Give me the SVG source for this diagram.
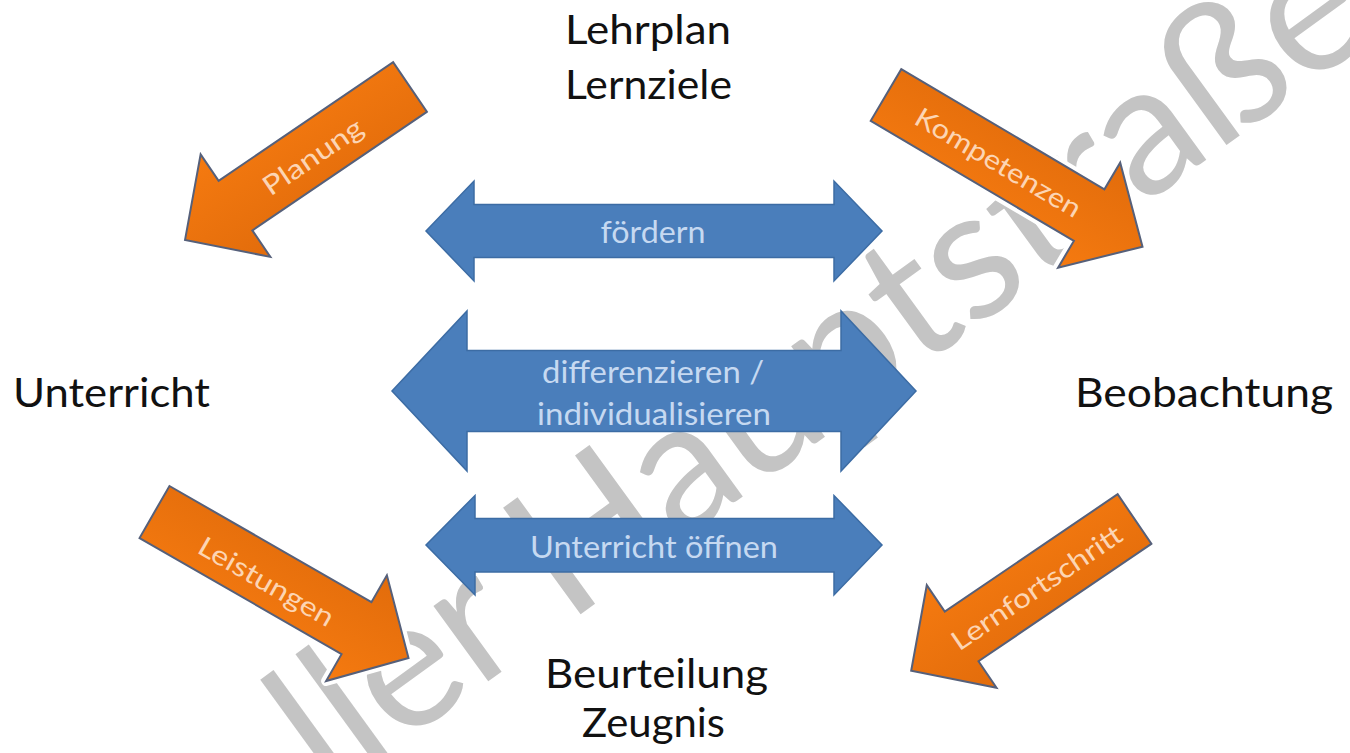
<svg xmlns="http://www.w3.org/2000/svg" width="1350" height="753" viewBox="0 0 1350 753">
  <defs>
    <linearGradient id="og" x1="0" y1="0" x2="0" y2="1">
      <stop offset="0" stop-color="#E26C0B"/>
      <stop offset="1" stop-color="#F57A10"/>
    </linearGradient>
    <polygon id="shpPlan" points="0,-30 211,-30 211,-62 272,0 211,62 211,30 0,30"/>
    <polygon id="shpKomp" points="0,-30 236,-30 236,-61 298,0 236,61 236,30 0,30"/>
    <polygon id="shpLeis" points="0,-30 233,-30 233,-61 293,0 233,61 233,30 0,30"/>
    <polygon id="shpLern" points="0,-30 209,-30 209,-62 270,0 209,62 209,30 0,30"/>
    <style>
      .node { font-family: "Lato", "Open Sans", "Liberation Sans", sans-serif; font-size: 40px; fill: #111; stroke: #ffffff; stroke-width: 7px; paint-order: stroke; stroke-linejoin: round; }
      .wm { font-family: "Lato", "Open Sans", "Liberation Sans", sans-serif; font-size: 184px; fill: #c4c4c4; }
      .halo { fill: #ffffff; stroke: #ffffff; stroke-width: 10; stroke-linejoin: round; }
      .orange { fill: url(#og); stroke: #56607a; stroke-width: 2; stroke-linejoin: miter; }
      .blue { fill: #4A7EBB; stroke: #3C6CA4; stroke-width: 1.5; }
      .olabel { font-family: "Lato", "Open Sans", "Liberation Sans", sans-serif; font-size: 27px; fill: #FCD5B4; text-anchor: middle; }
      .blabel { font-family: "Lato", "Open Sans", "Liberation Sans", sans-serif; font-size: 30px; fill: #C6D9F1; text-anchor: middle; }
    </style>
  </defs>
  <rect width="1350" height="753" fill="#ffffff"/>

  <g id="watermark">
    <text class="wm" transform="translate(855,415) rotate(-36)" text-anchor="middle">ller Hauptstraße</text>
  </g>

  <g id="connectors">
    <g id="arrow-planung" transform="translate(410,87) rotate(145.8)">
      <use href="#shpPlan" class="halo"/>
      <use href="#shpPlan" class="orange"/>
    </g>
    <text class="olabel" transform="translate(313,157) rotate(-34.2)" dy="9" textLength="115" lengthAdjust="spacingAndGlyphs">Planung</text>

    <g id="arrow-kompetenzen" transform="translate(886,95) rotate(30.6)">
      <use href="#shpKomp" class="halo"/>
      <use href="#shpKomp" class="orange"/>
    </g>
    <text class="olabel" transform="translate(998,163) rotate(30.6)" dy="9" textLength="188" lengthAdjust="spacingAndGlyphs">Kompetenzen</text>

    <g id="arrow-leistungen" transform="translate(154.5,512) rotate(29.9)">
      <use href="#shpLeis" class="halo"/>
      <use href="#shpLeis" class="orange"/>
    </g>
    <text class="olabel" transform="translate(266,582) rotate(29.9)" dy="9" textLength="152" lengthAdjust="spacingAndGlyphs">Leistungen</text>

    <g id="arrow-lernfortschritt" transform="translate(1134.5,519) rotate(145.8)">
      <use href="#shpLern" class="halo"/>
      <use href="#shpLern" class="orange"/>
    </g>
    <text class="olabel" transform="translate(1037,588) rotate(-34.2)" dy="9" textLength="200" lengthAdjust="spacingAndGlyphs">Lernfortschritt</text>

    <g id="arrow-foerdern">
      <polygon class="blue" points="426,231 474,181 474,204.5 834,204.5 834,181 882,231 834,281 834,257.5 474,257.5 474,281"/>
      <text class="blabel" x="653" y="243" textLength="105" lengthAdjust="spacingAndGlyphs">fördern</text>
    </g>
    <g id="arrow-differenzieren">
      <polygon class="blue" points="392,391 467,311 467,350.5 841,350.5 841,311 916,391 841,471 841,431.5 467,431.5 467,471"/>
      <text class="blabel" x="653" y="382.5" textLength="222" lengthAdjust="spacingAndGlyphs">differenzieren /</text>
      <text class="blabel" x="654" y="425" textLength="234" lengthAdjust="spacingAndGlyphs">individualisieren</text>
    </g>
    <g id="arrow-oeffnen">
      <polygon class="blue" points="426,545 475,495.5 475,518.5 834,518.5 834,495.5 882,545 834,595 834,572 475,572 475,595"/>
      <text class="blabel" x="654" y="557.5" textLength="248" lengthAdjust="spacingAndGlyphs">Unterricht öffnen</text>
    </g>
  </g>

  <g id="node-lehrplan">
    <text class="node" x="565" y="43.5" textLength="166" lengthAdjust="spacingAndGlyphs">Lehrplan</text>
    <text class="node" x="565" y="99" textLength="167" lengthAdjust="spacingAndGlyphs">Lernziele</text>
  </g>
  <g id="node-unterricht">
    <text class="node" x="13" y="407" textLength="197" lengthAdjust="spacingAndGlyphs">Unterricht</text>
  </g>
  <g id="node-beobachtung">
    <text class="node" x="1075" y="407" textLength="258" lengthAdjust="spacingAndGlyphs">Beobachtung</text>
  </g>
  <g id="node-beurteilung">
    <text class="node" x="545" y="688" textLength="223" lengthAdjust="spacingAndGlyphs">Beurteilung</text>
    <text class="node" x="582" y="737" textLength="143" lengthAdjust="spacingAndGlyphs">Zeugnis</text>
  </g>
</svg>
